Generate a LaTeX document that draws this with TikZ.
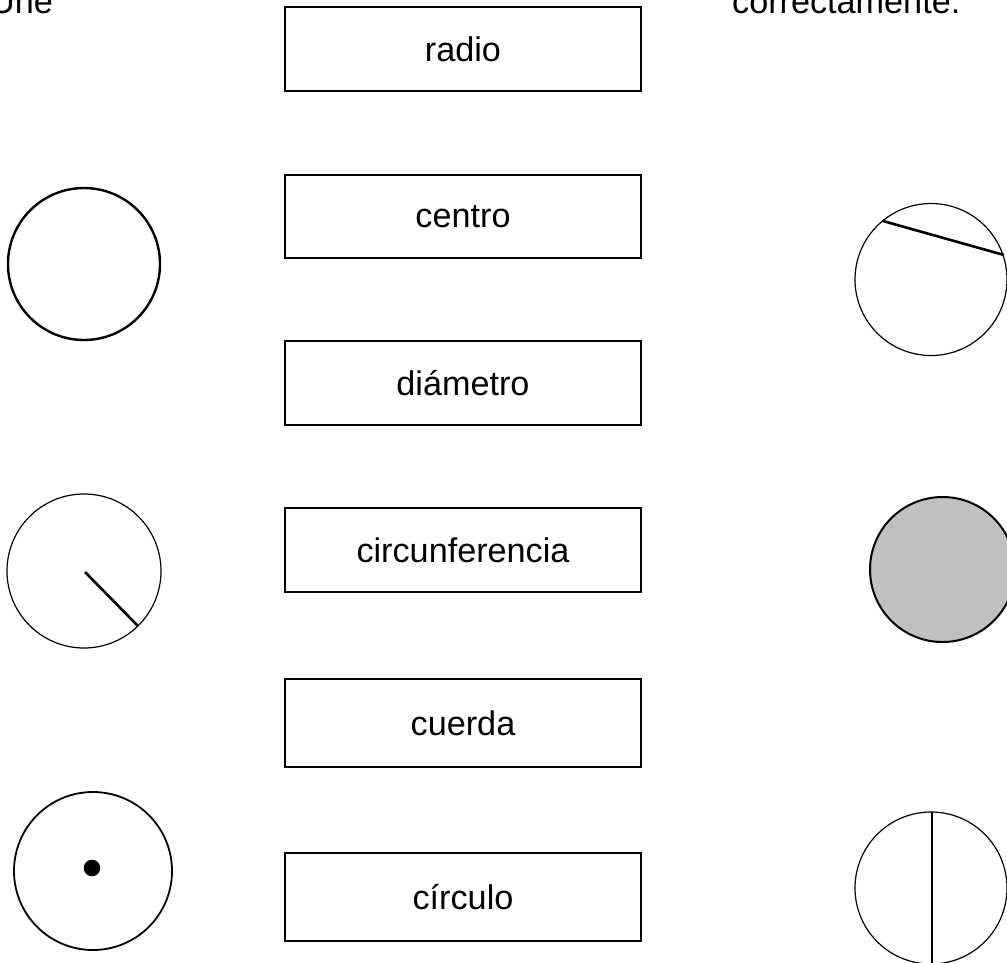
\documentclass[tikz,border=0pt]{standalone}
\usepackage{fontspec}
\setmainfont{Liberation Sans}
\usepackage{xcolor}
\usepackage{tikz}
\usetikzlibrary{positioning}
\definecolor{discgray}{HTML}{C0C0C0}

\begin{document}
\begin{tikzpicture}[x=1pt, y=-1pt,
    wordbox/.style={draw=black, line width=1.7pt, fill=white,
          minimum width=356pt, minimum height=84pt, inner sep=0pt,
          font=\fontsize{34.2}{41}\selectfont},
    thinring/.style={draw=black, line width=1.2pt},
    thickring/.style={draw=black, line width=2.4pt},
    segment/.style={draw=black, line width=2.6pt}]
    \useasboundingbox (0,0) rectangle (1007,962);

    % heading, cut by the page edge
    \node[anchor=base east, inner sep=0pt, font=\fontsize{34.2}{41}\selectfont] (headleft) at (53,13) {Une};
    \node[anchor=base west, inner sep=0pt, font=\fontsize{34.2}{41}\selectfont] (headright) at (732,13) {correctamente.};

    % word boxes
    \node[wordbox] (radio) at (463,49) {radio};
    \node[wordbox, minimum height=83pt] (centro) at (463,216.5) {centro};
    \node[wordbox] (diametro) at (463,383) {diámetro};
    \node[wordbox] (circunf) at (463,550) {circunferencia};
    \node[wordbox, minimum height=88pt] (cuerda) at (463,723) {cuerda};
    \node[wordbox, minimum height=88pt] (circulo) at (463,897) {círculo};

    % left figures
    \draw[thickring] (84,264) circle (76);
    \draw[thinring] (84,571) circle (77);
    \coordinate (rcenter) at (85,572);
    \coordinate (rend) at (138,626);
    \draw[segment] (rcenter) -- (rend);
    \draw[thinring, line width=1.8pt] (93,871) circle (79);
    \fill[black] (92,868) circle (8.3);

    % right figures
    \draw[thinring] (931,279.5) circle (76);
    \coordinate (cordA) at (883,221);
    \coordinate (cordB) at (1004,255);
    \draw[segment] (cordA) -- (cordB);
    \draw[thickring, line width=2pt, fill=discgray] (942.5,569.5) circle (72.5);
    \draw[thinring] (931,888) circle (76);
    \coordinate (diamA) at (932,812);
    \coordinate (diamB) at (932,964);
    \draw[segment] (diamA) -- (diamB);
  \end{tikzpicture}
\end{document}
